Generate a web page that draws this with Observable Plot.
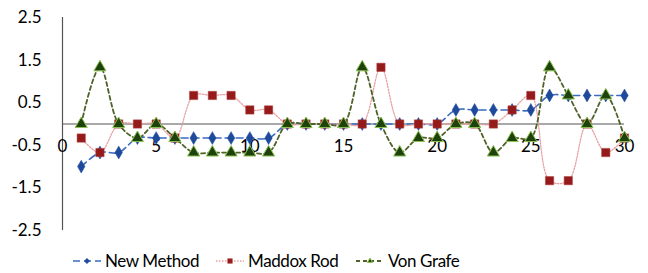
<!DOCTYPE html>
<html><head><meta charset="utf-8">
<script src="https://cdn.jsdelivr.net/npm/d3@7"></script>
<script src="https://cdn.jsdelivr.net/npm/@observablehq/plot@0.6"></script>
<style>
body{margin:0;background:#fff;font-family:Lato,"Open Sans",sans-serif;}
#legend{display:flex;justify-content:flex-start;align-items:center;height:33px;font-size:17px;color:#000;}
#legend .item{display:flex;align-items:center;position:absolute;letter-spacing:-0.4px;}
</style>
</head><body><div id="chart"></div><div id="legend" style="position:relative"></div>
<script>
const xValues = [1,2,3,4,5,6,7,8,9,10,11,12,13,14,15,16,17,18,19,20,21,22,23,24,25,26,27,28,29,30];
const newMethod = [-1,-0.67,-0.67,-0.33,-0.33,-0.33,-0.33,-0.33,-0.33,-0.33,-0.33,0,0,0,0,0,0,0,0,0,0.33,0.33,0.33,0.33,0.33,0.67,0.67,0.67,0.67,0.67];
const maddoxRod = [-0.33,-0.67,0,0,0,-0.33,0.67,0.67,0.67,0.33,0.33,0,0,0,0,0,1.33,0,0,0,0,0,0,0.33,0.67,-1.33,-1.33,0,-0.67,-0.33];
const vonGrafe = [0,1.33,0,-0.33,0,-0.33,-0.67,-0.67,-0.67,-0.67,-0.67,0,0,0,0,1.33,0,-0.67,-0.33,-0.33,0,0,-0.67,-0.33,-0.33,1.33,0.67,0,0.67,-0.33];
const seriesNames = ["New Method","Maddox Rod","Von Grafe"];
const yTicks = [2.5,1.5,0.5,-0.5,-1.5,-2.5];
const yTickLabels = ["2.5","1.5","0.5","-0.5","-1.5","-2.5"];
const xTicks = [0,5,10,15,20,25,30];
const xTickLabels = ["0","5","10","15","20","25","30"];

const styles = [
  {line:"#3a6bc0", dash:"7,4", width:1.6, symbol:"diamond", r:3.9, fill:"#1f4a9c", stroke:"#1f4a9c", sw:0.5},
  {line:"#e8a0a0", dash:"1.5,1.5", width:1.3, symbol:"square", r:4.7, fill:"#951b1b", stroke:"#b04040", sw:0.5},
  {line:"#4f6228", dash:"4,3", width:1.8, symbol:"triangle", r:4.5, fill:"#1e420c", stroke:"#8cc152", sw:1}
];
const seriesData = [newMethod, maddoxRod, vonGrafe].map((vals,i)=>xValues.map((x,j)=>({x, y: vals[j], s: seriesNames[i]})));

const marks = [
  Plot.ruleY([0], {x1: 0, x2: 30, stroke: "#555", strokeWidth: 1.2}),
  Plot.ruleX([0], {y1: -2.5, y2: 2.5, stroke: "#555", strokeWidth: 1.2}),
  Plot.axisY({ticks: yTicks, tickSize: 0, tickPadding: 21, tickFormat: (d)=>yTickLabels[yTicks.indexOf(d)], fontSize: 17, color:"#000", label: null}),
  Plot.text(xTicks, {x: d=>d, y: 0, dy: 23, text: (d,i)=>xTickLabels[i], fontSize: 17, fill:"#000"})
];
seriesData.forEach((data,i)=>{
  const s = styles[i];
  marks.push(Plot.line(data, {x:"x", y:"y", curve:"catmull-rom", stroke:s.line, strokeWidth:s.width, strokeDasharray:s.dash}));
  marks.push(Plot.dot(data, {x:"x", y:"y", symbol: ()=>s.symbol, r:s.r, fill:s.fill, stroke:s.stroke, strokeWidth:s.sw}));
});

const chart = Plot.plot({
  width: 648, height: 240,
  marginLeft: 62, marginRight: 24, marginTop: 17, marginBottom: 10,
  style: {fontFamily: "Lato, 'Open Sans', sans-serif", fontSize: "17px", background: "#fff"},
  x: {domain: [0,30], axis: null},
  y: {domain: [-2.5,2.5], axis: null},
  symbol: {type: "identity"},
  marks
});
document.getElementById("chart").appendChild(chart);

// legend
const legend = document.getElementById("legend");
const legendPos = [73, 216, 356];
seriesNames.forEach((name,i)=>{
  const s = styles[i];
  const item = document.createElement("div");
  item.className = "item";
  item.style.left = legendPos[i] + "px";
  item.style.top = "10px";
  const sw = d3.create("svg").attr("width", 30).attr("height", 14);
  sw.append("line").attr("x1",0).attr("x2",28).attr("y1",7).attr("y2",7)
    .attr("stroke", s.line).attr("stroke-width", s.width).attr("stroke-dasharray", s.dash);
  sw.append("path").attr("transform","translate(14,7)")
    .attr("d", d3.symbol(s.symbol==="diamond"?d3.symbolDiamond2:s.symbol==="square"?d3.symbolSquare:d3.symbolTriangle2, s.symbol==="square"?22:18)())
    .attr("fill", s.fill).attr("stroke", s.stroke).attr("stroke-width", s.sw);
  item.appendChild(sw.node());
  const t = document.createElement("span");
  t.textContent = name;
  t.style.marginLeft = "2px";
  item.appendChild(t);
  legend.appendChild(item);
});
</script></body></html>
